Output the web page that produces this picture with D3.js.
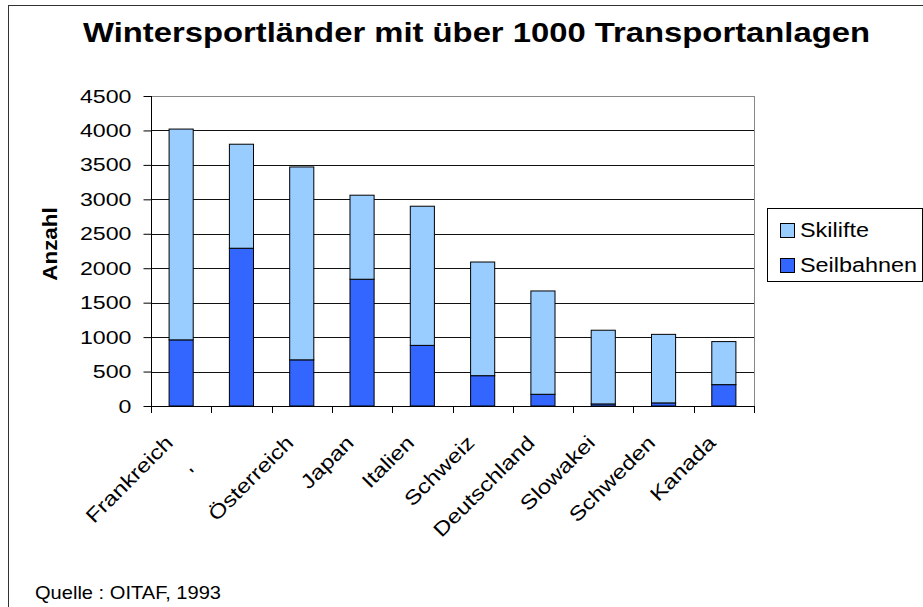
<!DOCTYPE html>
<html>
<head>
<meta charset="utf-8">
<script src="https://cdn.jsdelivr.net/npm/d3@7"></script>
<style>
  html, body { margin: 0; padding: 0; background: #fff; }
  svg { display: block; font-family: "Liberation Sans", Arial, sans-serif; }
</style>
</head>
<body>
<svg id="chart" width="923" height="607"></svg>
<script>
// ---- Data ----
const categories = ["Frankreich", "'", "Österreich", "Japan", "Italien", "Schweiz", "Deutschland", "Slowakei", "Schweden", "Kanada"];
const seilbahnen = [960, 2290, 670, 1840, 880, 440, 170, 30, 45, 310];
const skilifte   = [3060, 1510, 2800, 1220, 2020, 1650, 1500, 1070, 995, 625];
const seriesNames = ["Seilbahnen", "Skilifte"];
const yTicks = [0, 500, 1000, 1500, 2000, 2500, 3000, 3500, 4000, 4500];
const titleText = "Wintersportländer mit über 1000 Transportanlagen";
const yLabel = "Anzahl";
const sourceText = "Quelle : OITAF, 1993";

const colors = { "Seilbahnen": "#3366ff", "Skilifte": "#99ccff" };

const svg = d3.select("#chart");

// horizontally stretch text (the reference font is rendered wider)
function stretch(sel, f) {
  sel.each(function () {
    const w = this.getComputedTextLength();
    if (w > 0) d3.select(this).attr("textLength", w * f).attr("lengthAdjust", "spacingAndGlyphs");
  });
}

// outer frame
svg.append("rect").attr("x", 8.5).attr("y", 5.5).attr("width", 930).attr("height", 620)
  .attr("fill", "none").attr("stroke", "#333").attr("stroke-width", 1);

const plot = { left: 151, right: 754, top: 96, bottom: 406 };

const x = d3.scaleBand().domain(categories).range([plot.left, plot.right]).paddingInner(0.6).paddingOuter(0.3);
const xb = d3.scaleBand().domain(categories).range([plot.left, plot.right]);
const y = d3.scaleLinear().domain([0, 4500]).range([plot.bottom, plot.top]);

// title
const title = svg.append("text").attr("x", 83).attr("y", 42)
  .attr("font-size", 28).attr("font-weight", "bold").attr("fill", "#000").text(titleText);
title.attr("textLength", 787).attr("lengthAdjust", "spacingAndGlyphs");

// gridlines
svg.append("g").selectAll("line").data(yTicks.filter(d => d > 0)).join("line")
  .attr("x1", plot.left).attr("x2", plot.right)
  .attr("y1", d => Math.round(y(d)) + 0.5).attr("y2", d => Math.round(y(d)) + 0.5)
  .attr("stroke", d => d === 4500 ? "#888" : "#111").attr("stroke-width", 1);

// right border of plot
svg.append("line").attr("x1", plot.right + 0.5).attr("x2", plot.right + 0.5)
  .attr("y1", plot.top).attr("y2", plot.bottom).attr("stroke", "#888");

// stacked data
const table = categories.map((c, i) => ({ cat: c, Seilbahnen: seilbahnen[i], Skilifte: skilifte[i] }));
const stack = d3.stack().keys(seriesNames)(table);

svg.append("g").selectAll("g").data(stack).join("g")
  .attr("fill", d => colors[d.key])
  .selectAll("rect").data(d => d).join("rect")
  .attr("x", d => x(d.data.cat))
  .attr("width", x.bandwidth())
  .attr("y", d => y(d[1]))
  .attr("height", d => y(d[0]) - y(d[1]))
  .attr("stroke", "#000").attr("stroke-width", 1);

// y axis
const yAxis = d3.axisLeft(y).tickValues(yTicks).tickSize(8).tickFormat(d3.format("d"));
const gy = svg.append("g").attr("transform", `translate(${plot.left + 0.5},0)`).call(yAxis);
gy.attr("font-size", null).attr("font-family", null);
gy.select(".domain").attr("stroke", "#000").attr("d", `M0,${plot.top}V${plot.bottom}`);
gy.selectAll(".tick line").attr("stroke", "#000");
gy.selectAll(".tick text")
  .attr("x", 0)
  .attr("transform", "translate(-20,0) scale(1.22,1)")
  .attr("font-size", 19).attr("fill", "#000")
  .attr("font-family", "Liberation Sans, Arial, sans-serif");

// x axis (ticks at category boundaries)
const boundaries = categories.map(c => xb(c)).concat([plot.right]);
svg.append("line").attr("x1", plot.left).attr("x2", plot.right)
  .attr("y1", plot.bottom + 0.5).attr("y2", plot.bottom + 0.5).attr("stroke", "#000");
svg.append("g").selectAll("line").data(boundaries).join("line")
  .attr("x1", d => Math.round(d) + 0.5).attr("x2", d => Math.round(d) + 0.5)
  .attr("y1", plot.bottom).attr("y2", plot.bottom + 7).attr("stroke", "#000");

// x labels rotated
const xl = svg.append("g").selectAll("text").data(categories).join("text")
  .attr("transform", d => `translate(${xb(d) + xb.bandwidth() / 2 - 7},${plot.bottom + 38}) rotate(-45)`)
  .attr("text-anchor", "end").attr("font-size", 20).attr("fill", "#000")
  .style("white-space", "pre")
  .text(d => d === "'" ? "'\u00A0\u00A0\u00A0\u00A0\u00A0\u00A0\u00A0" : d);
stretch(xl, 1.2);

// y label
const yl = svg.append("text").attr("transform", `translate(57,244) rotate(-90)`)
  .attr("text-anchor", "middle").attr("font-size", 20).attr("font-weight", "bold").text(yLabel);
stretch(yl, 1.12);

// legend
const lg = svg.append("g");
lg.append("rect").attr("x", 767.5).attr("y", 208.5).attr("width", 155).attr("height", 73)
  .attr("fill", "#fff").attr("stroke", "#000");
const legendItems = ["Skilifte", "Seilbahnen"];
legendItems.forEach((k, i) => {
  lg.append("rect").attr("x", 780.5).attr("y", 223.5 + i * 35).attr("width", 14).attr("height", 14)
    .attr("fill", colors[k]).attr("stroke", "#000");
  const t = lg.append("text").attr("x", 800).attr("y", 237 + i * 35).attr("font-size", 20).attr("fill", "#000").text(k);
  stretch(t, 1.17);
});

// source
const src = svg.append("text").attr("x", 35).attr("y", 599).attr("font-size", 19).attr("fill", "#000").text(sourceText);
src.attr("textLength", 186).attr("lengthAdjust", "spacingAndGlyphs");
</script>
</body>
</html>
